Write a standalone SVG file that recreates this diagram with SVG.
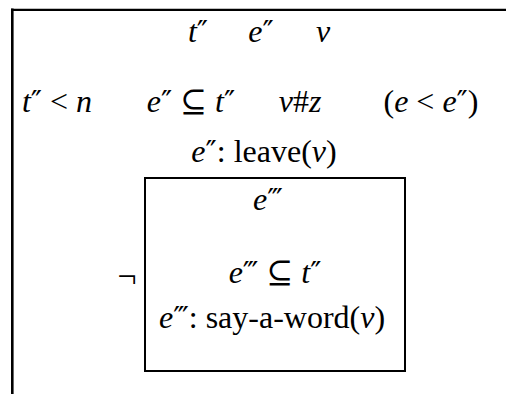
<svg xmlns="http://www.w3.org/2000/svg" width="506" height="394" viewBox="0 0 506 394">
<style>
text{font-family:"Liberation Serif","DejaVu Serif",serif;font-size:32px;fill:#000;text-anchor:middle}
.m{font-style:italic}
.p{font-family:"DejaVu Serif",serif;font-size:30px;font-style:normal}
.frame{fill:none;stroke:#000}
</style>
<rect width="506" height="394" fill="#fff"/>
<g id="outer">
<line class="frame" x1="12.3" y1="394" x2="12.3" y2="8.5" stroke-width="2.6"/>
<line class="frame" x1="11" y1="9.8" x2="520" y2="9.8" stroke-width="2.2"/>
<g id="universe">
<text x="198" y="42" class="m">t<tspan class="p">″</tspan></text>
<text x="261" y="42" class="m">e<tspan class="p">″</tspan></text>
<text x="323" y="42" class="m">v</text>
</g>
<g id="conditions">
<text x="57" y="112"><tspan class="m">t</tspan><tspan class="p">″</tspan> &lt; <tspan class="m">n</tspan></text>
<text x="191" y="112"><tspan class="m">e</tspan><tspan class="p">″</tspan> ⊆ <tspan class="m">t</tspan><tspan class="p">″</tspan></text>
<text x="300" y="112"><tspan class="m">v</tspan>#<tspan class="m">z</tspan></text>
<text x="431" y="112">(<tspan class="m">e</tspan> &lt; <tspan class="m">e</tspan><tspan class="p">″</tspan>)</text>
<text x="264" y="162"><tspan class="m">e</tspan><tspan class="p">″</tspan>: leave(<tspan class="m">v</tspan>)</text>
</g>
<g id="negation">
<text x="127" y="287" style="font-size:34px">¬</text>
</g>
</g>
<g id="inner">
<rect class="frame" x="145" y="178" width="260" height="193" stroke-width="2"/>
<text x="268" y="210"><tspan class="m">e</tspan><tspan class="p">‴</tspan></text>
<text x="275" y="283"><tspan class="m">e</tspan><tspan class="p">‴</tspan> ⊆ <tspan class="m">t</tspan><tspan class="p">″</tspan></text>
<text x="272" y="328"><tspan class="m">e</tspan><tspan class="p">‴</tspan>: say-a-word(<tspan class="m">v</tspan>)</text>
</g>
<g id="connectors"/>
</svg>
